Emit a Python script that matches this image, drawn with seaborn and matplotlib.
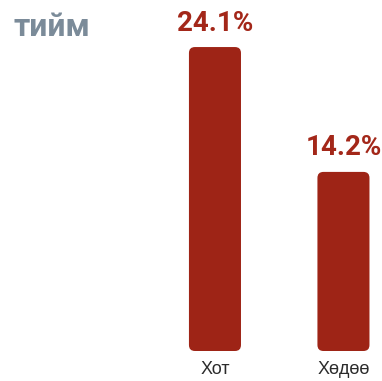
import matplotlib
matplotlib.use("Agg")
import matplotlib.pyplot as plt
from matplotlib.patches import FancyBboxPatch
import seaborn as sns
import pandas as pd

categories = ["Хот", "Хөдөө"]
values = [24.1, 14.2]
value_labels = ["24.1%", "14.2%"]
title = "тийм"

bar_color = "#9e2416"
label_color = "#a32719"
title_color = "#7b8b99"

sns.set_theme(style="white")
plt.rcParams["font.family"] = ["Liberation Sans", "DejaVu Sans"]
bold_family = ["Roboto", "DejaVu Sans"]

df = pd.DataFrame({"cat": categories, "val": values})

fig = plt.figure(figsize=(3.82, 3.81), dpi=100)
ax = fig.add_axes([0, 30 / 381, 1, 351 / 381])

sns.barplot(data=df, x="cat", y="val", color=bar_color, width=0.405,
            saturation=1, ax=ax)

ax.set_xlim(-1.673, 1.300)
ax.set_ylim(0, 27.83)

# swap the square bars for rounded ones
px_x = 382 / (1.300 + 1.673)
px_y = 351 / 27.83
for p in list(ax.patches):
    x, y = p.get_x(), p.get_y()
    w, h = p.get_width(), p.get_height()
    p.remove()
    ax.add_patch(FancyBboxPatch(
        (x, y), w, h,
        boxstyle=f"round,pad=0,rounding_size={6 / px_x}",
        mutation_aspect=px_x / px_y,
        facecolor=bar_color, edgecolor="none"))

for i, (v, lab) in enumerate(zip(values, value_labels)):
    ax.annotate(lab, (i, v), xytext=(0, 7.5), textcoords="offset points",
                ha="center", va="bottom", fontsize=20, fontweight="bold",
                family=bold_family, color=label_color)

for s in ax.spines.values():
    s.set_visible(False)
ax.set_yticks([])
ax.set_xlabel("")
ax.set_ylabel("")
ax.tick_params(axis="x", length=0, pad=7, labelsize=13, labelcolor="#2b2b2b")

fig.text(13 / 382, 1 - 36 / 381, title, fontsize=23, fontweight="bold",
         family=bold_family, color=title_color, ha="left", va="baseline")

fig.savefig("out.png", dpi=100)
